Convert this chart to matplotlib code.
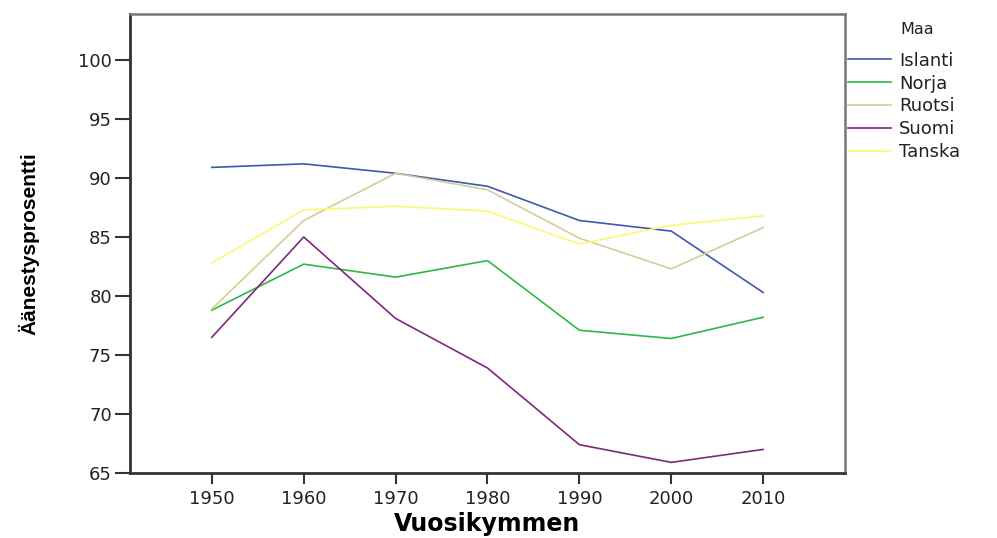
import matplotlib
matplotlib.use("Agg")
import matplotlib.pyplot as plt

# 数据
vuodet = [1950, 1960, 1970, 1980, 1990, 2000, 2010]
islanti = [90.9, 91.2, 90.4, 89.3, 86.4, 85.5, 80.3]
norja = [78.8, 82.7, 81.6, 83.0, 77.1, 76.4, 78.2]
ruotsi = [78.9, 86.4, 90.4, 89.0, 84.9, 82.3, 85.8]
suomi = [76.5, 85.0, 78.1, 73.9, 67.4, 65.9, 67.0]
tanska = [82.8, 87.3, 87.6, 87.2, 84.4, 86.0, 86.8]

maat = ["Islanti", "Norja", "Ruotsi", "Suomi", "Tanska"]
sarjat = [islanti, norja, ruotsi, suomi, tanska]
varit = ["#3E58AC", "#2EB848", "#D3CE97", "#7C287D", "#FBF873"]
y_ticks = [65, 70, 75, 80, 85, 90, 95, 100]

plt.rcParams['font.family'] = ['DejaVu Sans']

fig = plt.figure(figsize=(9.97, 5.38), dpi=100)
ax = fig.add_axes([0.1304, 0.1208, 0.7171, 0.8532])

for nimi, arvot, vari in zip(maat, sarjat, varit):
    ax.plot(vuodet, arvot, color=vari, linewidth=1.2, label=nimi)

ax.set_xlim(1941.1, 2018.9)
ax.set_ylim(65, 103.9)
ax.set_xticks(vuodet)
ax.set_yticks(y_ticks)
ax.tick_params(axis='y', length=11, width=1.5, labelsize=13, pad=2, color='#333333',
               labelcolor='#222222')
ax.tick_params(axis='x', length=8, width=1.5, labelsize=13, pad=4, color='#333333',
               labelcolor='#222222')

for side in ['left', 'bottom']:
    ax.spines[side].set_linewidth(2)
    ax.spines[side].set_color('#333333')
for side in ['top', 'right']:
    ax.spines[side].set_linewidth(1.8)
    ax.spines[side].set_color('#777777')

ax.set_ylabel("Äänestysprosentti", fontsize=15, fontweight='bold',
              family=['Liberation Sans Narrow', 'Liberation Sans', 'DejaVu Sans'], labelpad=28)
ax.set_xlabel("Vuosikymmen", fontsize=17, fontweight='bold', labelpad=3)

# 图例
leg = ax.legend(loc='upper left', bbox_to_anchor=(0.851, 0.904), bbox_transform=fig.transFigure,
                frameon=False, fontsize=13, handlelength=2.35, handletextpad=0.45,
                labelspacing=0.27, borderpad=0, borderaxespad=0)
for t in leg.get_texts():
    t.set_color('#222222')
fig.text(0.903, 0.946, "Maa", fontsize=11.5, ha='left', va='center', color='#222222')

fig.savefig("out.png", dpi=100)
